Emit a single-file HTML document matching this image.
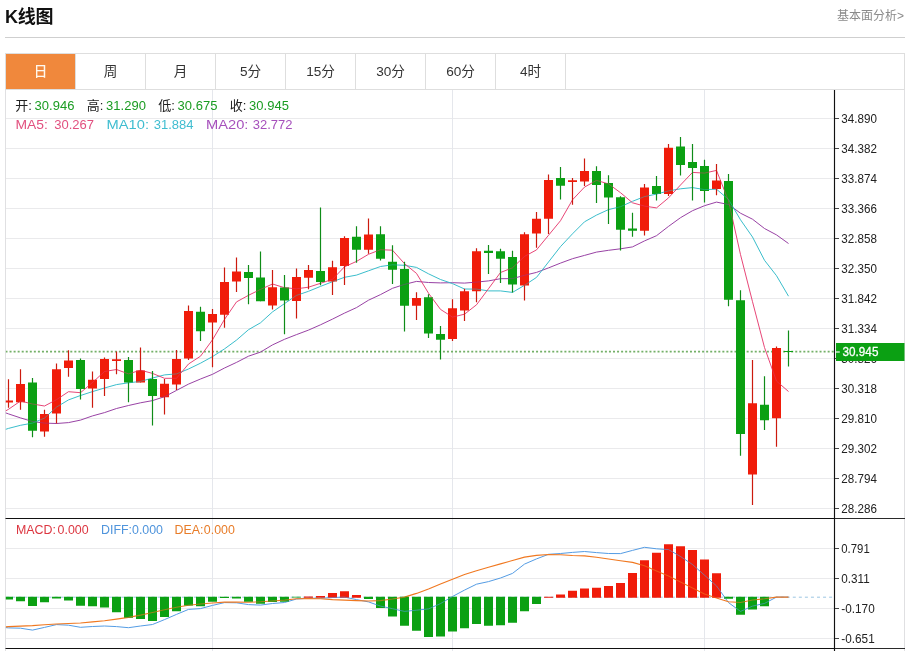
<!DOCTYPE html>
<html lang="zh-CN">
<head>
<meta charset="utf-8">
<title>K线图</title>
<style>
html,body{margin:0;padding:0;background:#fff;}
body{width:909px;height:651px;position:relative;overflow:hidden;font-family:"Liberation Sans","Noto Sans CJK SC",sans-serif;color:#222;}
.title{position:absolute;left:5px;top:4px;font-size:18px;font-weight:bold;line-height:26px;color:#111;letter-spacing:-0.3px;}
.more{position:absolute;right:5px;top:7px;font-size:12px;line-height:18px;color:#8a8a8a;}
.hr{position:absolute;left:5px;top:37px;width:900px;height:1px;background:#cfcfcf;}
.tabs{position:absolute;left:5px;top:53px;width:898px;height:35px;border:1px solid #dedede;background:#fff;}
.tab{float:left;width:69px;height:35px;line-height:36px;text-align:center;font-size:13.6px;color:#333;border-right:1px solid #dedede;}
.tab.on{background:#f0883c;color:#fff8ee;font-weight:500;}
</style>
</head>
<body>
<div class="title">K线图</div>
<div class="more">基本面分析&gt;</div>
<div class="hr"></div>
<div class="tabs"><div class="tab on">日</div><div class="tab">周</div><div class="tab">月</div><div class="tab">5分</div><div class="tab">15分</div><div class="tab">30分</div><div class="tab">60分</div><div class="tab">4时</div></div>
<svg width="909" height="651" viewBox="0 0 909 651" style="position:absolute;left:0;top:0">
<defs><clipPath id="cp"><rect x="5.8" y="90" width="828.8" height="559"/></clipPath></defs>
<path d="M5.5 118.5H834.5M5.5 148.5H834.5M5.5 178.5H834.5M5.5 208.5H834.5M5.5 238.5H834.5M5.5 268.5H834.5M5.5 298.5H834.5M5.5 328.5H834.5M5.5 358.5H834.5M5.5 388.5H834.5M5.5 418.5H834.5M5.5 448.5H834.5M5.5 478.5H834.5M5.5 508.5H834.5M5.5 548.5H834.5M5.5 578.5H834.5M5.5 608.5H834.5M5.5 638.5H834.5" stroke="#eaeaec" stroke-width="1" fill="none"/>
<path d="M212.5 90V651M452.5 90V651M704.5 90V651" stroke="#e5e7ec" stroke-width="1" fill="none"/>
<path d="M5.5 90V651M904.5 90V651" stroke="#e0e0e2" stroke-width="1" fill="none"/>
<g clip-path="url(#cp)">
<path d="M5.5 351.5H834.5" stroke="#74b068" stroke-width="1.75" stroke-dasharray="2 2.05" fill="none"/>
<path d="M-3.5 409.5 L8.5 413.9 L20.5 417.9 L32.5 421.5 L44.5 423.1 L56.5 423.5 L68.5 422.6 L80.5 420.1 L92.5 415.9 L104.5 412.6 L116.5 408.5 L128.5 405.5 L140.5 402.8 L152.5 400.6 L164.5 396.7 L176.5 390.4 L188.5 384.1 L200.5 379 L212.5 374.3 L224.5 368 L236.5 362.4 L248.5 356.2 L260.5 352.1 L272.5 344.9 L284.5 339.3 L296.5 334.6 L308.5 330.1 L320.5 324.8 L332.5 319.1 L344.5 313.1 L356.5 307.6 L368.5 300.2 L380.5 294.6 L392.5 288.3 L404.5 284.4 L416.5 281.4 L428.5 282.5 L440.5 282.9 L452.5 282.7 L464.5 283.1 L476.5 282.1 L488.5 280.9 L500.5 278.7 L512.5 278.6 L524.5 275.3 L536.5 272.4 L548.5 267.9 L560.5 263.1 L572.5 258.7 L584.5 255.4 L596.5 252.1 L608.5 250.3 L620.5 248.8 L632.5 246.9 L644.5 240.9 L656.5 235.7 L668.5 226.4 L680.5 217.7 L692.5 210.7 L704.5 205.7 L716.5 202.1 L728.5 204.5 L740.5 213.2 L752.5 219.2 L764.5 228.5 L776.5 234.9 L788.5 243.5" stroke="#92389f" stroke-width="0.95" fill="none" stroke-linejoin="round" opacity="1.0"/>
<path d="M-3.5 432.4 L8.5 428.4 L20.5 425.3 L32.5 423.1 L44.5 418.1 L56.5 407.1 L68.5 399.9 L80.5 395.5 L92.5 391.6 L104.5 388 L116.5 384.6 L128.5 382.8 L140.5 381.4 L152.5 378 L164.5 374.9 L176.5 373.9 L188.5 369 L200.5 363.2 L212.5 356.6 L224.5 348.9 L236.5 340.1 L248.5 329.7 L260.5 322.8 L272.5 311.9 L284.5 303.6 L296.5 295.4 L308.5 291.3 L320.5 286.4 L332.5 281.7 L344.5 277.3 L356.5 275.1 L368.5 270.8 L380.5 266.5 L392.5 264.8 L404.5 265.3 L416.5 267.4 L428.5 273.8 L440.5 279.5 L452.5 283.6 L464.5 289 L476.5 289.1 L488.5 290.9 L500.5 290.9 L512.5 292.4 L524.5 285.3 L536.5 277.4 L548.5 262 L560.5 246.6 L572.5 233.8 L584.5 221.8 L596.5 215.1 L608.5 209.6 L620.5 206.7 L632.5 201.3 L644.5 196.6 L656.5 194.1 L668.5 190.9 L680.5 188.8 L692.5 187.6 L704.5 189.6 L716.5 189.2 L728.5 199.4 L740.5 219.8 L752.5 237 L764.5 260.3 L776.5 275.7 L788.5 296.2" stroke="#2fb9c8" stroke-width="0.95" fill="none" stroke-linejoin="round" opacity="1.0"/>
<path d="M-3.5 416.1 L8.5 409.3 L20.5 401 L32.5 404 L44.5 406 L56.5 399.7 L68.5 391.7 L80.5 392.7 L92.5 382.5 L104.5 371.5 L116.5 369.5 L128.5 373.9 L140.5 370.2 L152.5 373.4 L164.5 378.3 L176.5 378.3 L188.5 364 L200.5 356.2 L212.5 339.8 L224.5 319.4 L236.5 301.9 L248.5 295.3 L260.5 289.4 L272.5 284 L284.5 287.7 L296.5 288.8 L308.5 287.2 L320.5 283.3 L332.5 279.3 L344.5 266.8 L356.5 261.4 L368.5 254.3 L380.5 249.7 L392.5 250.2 L404.5 263.7 L416.5 273.4 L428.5 293.2 L440.5 309.4 L452.5 317.1 L464.5 314.2 L476.5 304.8 L488.5 288.7 L500.5 272.5 L512.5 267.8 L524.5 256.4 L536.5 249.9 L548.5 235.3 L560.5 220.7 L572.5 199.8 L584.5 187.1 L596.5 180.4 L608.5 183.9 L620.5 192.7 L632.5 202.8 L644.5 206.1 L656.5 207.9 L668.5 197.9 L680.5 185 L692.5 172.4 L704.5 173.1 L716.5 170.4 L728.5 200.8 L740.5 254.6 L752.5 301.7 L764.5 347.5 L776.5 381.1 L788.5 391.5" stroke="#e63c70" stroke-width="0.95" fill="none" stroke-linejoin="round" opacity="1.0"/>
<path d="M8.5 379.3V407.7M20.5 369.2V409.7M44.5 409.7V436.8M56.5 363.4V423.4M68.5 350.3V376.8M92.5 371.4V407.7M104.5 357.4V395.9M116.5 351.6V374.3M140.5 347.4V382.4M164.5 379V414.5M176.5 349.9V390M188.5 305.5V360.1M212.5 308.9V367.2M224.5 267.4V327.8M236.5 257.4V292M272.5 270.1V309.6M296.5 268.4V318.5M308.5 265V289.2M332.5 260.8V294.9M344.5 236.3V285M368.5 218.6V253.7M416.5 292.2V320M452.5 299.3V341.1M464.5 288.8V320.9M476.5 248.2V302.3M524.5 232.3V300.6M536.5 212V247.8M548.5 174.4V234M572.5 178.1V204.8M584.5 158.4V186.1M644.5 184V235.4M668.5 144V195.9M716.5 163.9V195.3M752.5 359.9V505M776.5 346.4V446.8" stroke="#cc1a0e" stroke-width="1.2" fill="none"/>
<path d="M32.5 378.1V437.3M80.5 358.4V399.6M128.5 357V402.3M152.5 371V425.4M200.5 306.7V341M248.5 265V304.2M260.5 251.5V301.3M284.5 275.1V334.2M320.5 207.6V285.3M356.5 226.2V262.8M380.5 226.2V260.5M392.5 245.3V284M404.5 261.7V331.5M428.5 294.3V338M440.5 325.9V359.4M488.5 245V273.9M500.5 248.7V282.9M512.5 250.7V292.5M560.5 167.1V199.5M596.5 166.3V203M608.5 175.2V223.9M620.5 196.2V250.5M632.5 212.8V236.8M656.5 176V200.4M680.5 137.1V175.6M692.5 144V200.4M704.5 159.7V202.5M728.5 174V306.3M740.5 290.2V455.8M764.5 376.3V429.9M788.5 330.6V366.6" stroke="#0f8c18" stroke-width="1.2" fill="none"/>
<path d="M4 400.6h9v2h-9zM16 384h9v18.3h-9zM40 414h9v17.4h-9zM52 369.2h9v44.4h-9zM64 360.4h9v7.6h-9zM88 379.8h9v8.8h-9zM100 359.1h9v19.9h-9zM112 359.2h9v1.7h-9zM136 370.5h9v11.9h-9zM160 383.7h9v13.5h-9zM172 359.1h9v25.5h-9zM184 310.9h9v47.5h-9zM208 314h9v8.4h-9zM220 281.9h9v32.9h-9zM232 271.6h9v9.8h-9zM268 287.3h9v18.2h-9zM292 276.9h9v24.1h-9zM304 270.1h9v7.6h-9zM328 267.2h9v14.4h-9zM340 238h9v27.9h-9zM364 234.6h9v15.2h-9zM412 298.1h9v7.6h-9zM448 308.2h9v30.8h-9zM460 291.3h9v19.1h-9zM472 251.2h9v40.1h-9zM520 234.3h9v51.1h-9zM532 218.8h9v14.7h-9zM544 179.9h9v38.9h-9zM568 180.2h9v1.7h-9zM580 171h9v10.5h-9zM640 187.5h9v43.2h-9zM664 147.7h9v46.2h-9zM712 180.4h9v8.5h-9zM748 403.3h9v71.3h-9zM772 348.1h9v70.1h-9z" fill="#f01c0a"/>
<path d="M28 382.4h9v48.4h-9zM76 360.1h9v29h-9zM124 360.1h9v22.3h-9zM148 379h9v16.9h-9zM196 311.8h9v19.4h-9zM244 272.1h9v5.9h-9zM256 277.5h9v23.8h-9zM280 287.6h9v12.9h-9zM316 270.9h9v11h-9zM352 236.8h9v13h-9zM376 234.3h9v24.5h-9zM388 261.7h9v8.1h-9zM400 268.9h9v36.8h-9zM424 297.3h9v36.3h-9zM436 334.1h9v5.7h-9zM484 250.7h9v2.2h-9zM496 251.2h9v7.6h-9zM508 257.1h9v27.5h-9zM556 178.1h9v7.7h-9zM592 171h9v13.9h-9zM604 182.9h9v14.7h-9zM616 197.3h9v32.5h-9zM628 228.5h9v2.2h-9zM652 186.1h9v7.8h-9zM676 146.6h9v18.4h-9zM688 162.1h9v5.8h-9zM700 165.9h9v25.1h-9zM724 180.9h9v118.9h-9zM736 300.2h9v133.7h-9zM760 404.7h9v15.5h-9zM784 351h9v1h-9z" fill="#0ba013"/>
<clipPath id="cb"><path d="M4 400.6h9v2h-9zM16 384h9v18.3h-9zM40 414h9v17.4h-9zM52 369.2h9v44.4h-9zM64 360.4h9v7.6h-9zM88 379.8h9v8.8h-9zM100 359.1h9v19.9h-9zM112 359.2h9v1.7h-9zM136 370.5h9v11.9h-9zM160 383.7h9v13.5h-9zM172 359.1h9v25.5h-9zM184 310.9h9v47.5h-9zM208 314h9v8.4h-9zM220 281.9h9v32.9h-9zM232 271.6h9v9.8h-9zM268 287.3h9v18.2h-9zM292 276.9h9v24.1h-9zM304 270.1h9v7.6h-9zM328 267.2h9v14.4h-9zM340 238h9v27.9h-9zM364 234.6h9v15.2h-9zM412 298.1h9v7.6h-9zM448 308.2h9v30.8h-9zM460 291.3h9v19.1h-9zM472 251.2h9v40.1h-9zM520 234.3h9v51.1h-9zM532 218.8h9v14.7h-9zM544 179.9h9v38.9h-9zM568 180.2h9v1.7h-9zM580 171h9v10.5h-9zM640 187.5h9v43.2h-9zM664 147.7h9v46.2h-9zM712 180.4h9v8.5h-9zM748 403.3h9v71.3h-9zM772 348.1h9v70.1h-9zM28 382.4h9v48.4h-9zM76 360.1h9v29h-9zM124 360.1h9v22.3h-9zM148 379h9v16.9h-9zM196 311.8h9v19.4h-9zM244 272.1h9v5.9h-9zM256 277.5h9v23.8h-9zM280 287.6h9v12.9h-9zM316 270.9h9v11h-9zM352 236.8h9v13h-9zM376 234.3h9v24.5h-9zM388 261.7h9v8.1h-9zM400 268.9h9v36.8h-9zM424 297.3h9v36.3h-9zM436 334.1h9v5.7h-9zM484 250.7h9v2.2h-9zM496 251.2h9v7.6h-9zM508 257.1h9v27.5h-9zM556 178.1h9v7.7h-9zM592 171h9v13.9h-9zM604 182.9h9v14.7h-9zM616 197.3h9v32.5h-9zM628 228.5h9v2.2h-9zM652 186.1h9v7.8h-9zM676 146.6h9v18.4h-9zM688 162.1h9v5.8h-9zM700 165.9h9v25.1h-9zM724 180.9h9v118.9h-9zM736 300.2h9v133.7h-9zM760 404.7h9v15.5h-9zM784 351h9v1h-9z"/></clipPath>
<g clip-path="url(#cb)">
<path d="M-3.5 409.5 L8.5 413.9 L20.5 417.9 L32.5 421.5 L44.5 423.1 L56.5 423.5 L68.5 422.6 L80.5 420.1 L92.5 415.9 L104.5 412.6 L116.5 408.5 L128.5 405.5 L140.5 402.8 L152.5 400.6 L164.5 396.7 L176.5 390.4 L188.5 384.1 L200.5 379 L212.5 374.3 L224.5 368 L236.5 362.4 L248.5 356.2 L260.5 352.1 L272.5 344.9 L284.5 339.3 L296.5 334.6 L308.5 330.1 L320.5 324.8 L332.5 319.1 L344.5 313.1 L356.5 307.6 L368.5 300.2 L380.5 294.6 L392.5 288.3 L404.5 284.4 L416.5 281.4 L428.5 282.5 L440.5 282.9 L452.5 282.7 L464.5 283.1 L476.5 282.1 L488.5 280.9 L500.5 278.7 L512.5 278.6 L524.5 275.3 L536.5 272.4 L548.5 267.9 L560.5 263.1 L572.5 258.7 L584.5 255.4 L596.5 252.1 L608.5 250.3 L620.5 248.8 L632.5 246.9 L644.5 240.9 L656.5 235.7 L668.5 226.4 L680.5 217.7 L692.5 210.7 L704.5 205.7 L716.5 202.1 L728.5 204.5 L740.5 213.2 L752.5 219.2 L764.5 228.5 L776.5 234.9 L788.5 243.5" stroke="#92389f" stroke-width="0.95" fill="none" stroke-linejoin="round" opacity="0.5"/>
<path d="M-3.5 432.4 L8.5 428.4 L20.5 425.3 L32.5 423.1 L44.5 418.1 L56.5 407.1 L68.5 399.9 L80.5 395.5 L92.5 391.6 L104.5 388 L116.5 384.6 L128.5 382.8 L140.5 381.4 L152.5 378 L164.5 374.9 L176.5 373.9 L188.5 369 L200.5 363.2 L212.5 356.6 L224.5 348.9 L236.5 340.1 L248.5 329.7 L260.5 322.8 L272.5 311.9 L284.5 303.6 L296.5 295.4 L308.5 291.3 L320.5 286.4 L332.5 281.7 L344.5 277.3 L356.5 275.1 L368.5 270.8 L380.5 266.5 L392.5 264.8 L404.5 265.3 L416.5 267.4 L428.5 273.8 L440.5 279.5 L452.5 283.6 L464.5 289 L476.5 289.1 L488.5 290.9 L500.5 290.9 L512.5 292.4 L524.5 285.3 L536.5 277.4 L548.5 262 L560.5 246.6 L572.5 233.8 L584.5 221.8 L596.5 215.1 L608.5 209.6 L620.5 206.7 L632.5 201.3 L644.5 196.6 L656.5 194.1 L668.5 190.9 L680.5 188.8 L692.5 187.6 L704.5 189.6 L716.5 189.2 L728.5 199.4 L740.5 219.8 L752.5 237 L764.5 260.3 L776.5 275.7 L788.5 296.2" stroke="#2fb9c8" stroke-width="0.95" fill="none" stroke-linejoin="round" opacity="0.5"/>
<path d="M-3.5 416.1 L8.5 409.3 L20.5 401 L32.5 404 L44.5 406 L56.5 399.7 L68.5 391.7 L80.5 392.7 L92.5 382.5 L104.5 371.5 L116.5 369.5 L128.5 373.9 L140.5 370.2 L152.5 373.4 L164.5 378.3 L176.5 378.3 L188.5 364 L200.5 356.2 L212.5 339.8 L224.5 319.4 L236.5 301.9 L248.5 295.3 L260.5 289.4 L272.5 284 L284.5 287.7 L296.5 288.8 L308.5 287.2 L320.5 283.3 L332.5 279.3 L344.5 266.8 L356.5 261.4 L368.5 254.3 L380.5 249.7 L392.5 250.2 L404.5 263.7 L416.5 273.4 L428.5 293.2 L440.5 309.4 L452.5 317.1 L464.5 314.2 L476.5 304.8 L488.5 288.7 L500.5 272.5 L512.5 267.8 L524.5 256.4 L536.5 249.9 L548.5 235.3 L560.5 220.7 L572.5 199.8 L584.5 187.1 L596.5 180.4 L608.5 183.9 L620.5 192.7 L632.5 202.8 L644.5 206.1 L656.5 207.9 L668.5 197.9 L680.5 185 L692.5 172.4 L704.5 173.1 L716.5 170.4 L728.5 200.8 L740.5 254.6 L752.5 301.7 L764.5 347.5 L776.5 381.1 L788.5 391.5" stroke="#e63c70" stroke-width="0.95" fill="none" stroke-linejoin="round" opacity="0.5"/>
</g>
<path d="M6.3 597.2H834.5" stroke="#9cc6e2" stroke-width="1" stroke-dasharray="3 3.05" fill="none"/>
<path d="M5.5 627.6 L8.5 627.9 L20.5 628.2 L32.5 630.1 L44.5 627.4 L56.5 624.6 L68.5 625.2 L80.5 627.3 L92.5 626.5 L104.5 626 L116.5 626.6 L128.5 627.7 L140.5 626 L152.5 624.5 L164.5 619.6 L176.5 614.4 L188.5 609.4 L200.5 608.6 L212.5 605.4 L224.5 602.6 L236.5 602.8 L248.5 604.6 L260.5 605.1 L272.5 603.5 L284.5 602.5 L296.5 599 L308.5 598.2 L320.5 598.3 L332.5 597.5 L344.5 597.1 L356.5 599.6 L368.5 601.9 L380.5 606.1 L392.5 608.7 L404.5 611.4 L416.5 610.2 L428.5 608.9 L440.5 603.6 L452.5 596.5 L464.5 590.1 L476.5 584.2 L488.5 581.6 L500.5 578 L512.5 573.4 L524.5 564.1 L536.5 558.9 L548.5 554.3 L560.5 553.5 L572.5 552.4 L584.5 551.5 L596.5 552.6 L608.5 553.5 L620.5 553.6 L632.5 550.4 L644.5 547.3 L656.5 548.8 L668.5 549.6 L680.5 556.5 L692.5 564.5 L704.5 575.2 L716.5 585.9 L728.5 602.6 L740.5 611.4 L752.5 606.1 L764.5 603.4 L776.5 597.1 L788.5 597.1" stroke="#549ce4" stroke-width="1.0" fill="none" stroke-linejoin="round" opacity="1"/>
<path d="M5.5 626.9 L8.5 626.6 L20.5 626.1 L32.5 625.6 L44.5 624.8 L56.5 624 L68.5 623.5 L80.5 623 L92.5 621.9 L104.5 620.7 L116.5 619.1 L128.5 617.4 L140.5 615.1 L152.5 612.5 L164.5 609.7 L176.5 607.3 L188.5 605.2 L200.5 604 L212.5 603 L224.5 602.1 L236.5 602.1 L248.5 602.3 L260.5 601.8 L272.5 601 L284.5 600.1 L296.5 598.8 L308.5 598.5 L320.5 598.8 L332.5 599.6 L344.5 600.1 L356.5 600.6 L368.5 601 L380.5 600.6 L392.5 599 L404.5 597.1 L416.5 593.4 L428.5 589 L440.5 584 L452.5 579.2 L464.5 574.6 L476.5 570.7 L488.5 567.3 L500.5 563.9 L512.5 560.5 L524.5 557.1 L536.5 555.4 L548.5 554.5 L560.5 554.8 L572.5 555.5 L584.5 555.9 L596.5 557.3 L608.5 559 L620.5 560.7 L632.5 562.4 L644.5 565.8 L656.5 571 L668.5 576.1 L680.5 582 L692.5 588 L704.5 594 L716.5 597.9 L728.5 601.7 L740.5 602.5 L752.5 600 L764.5 598.8 L776.5 597.1 L788.5 597.1" stroke="#f07820" stroke-width="1.1" fill="none" stroke-linejoin="round" opacity="1"/>
<path d="M304 596.6h9v1.2h-9zM316 596.1h9v1.7h-9zM328 592.9h9v4.9h-9zM340 591.2h9v6.6h-9zM352 595.1h9v2.7h-9zM544 596.7h9v1.1h-9zM556 594.5h9v3.3h-9zM568 590.8h9v7h-9zM580 588.4h9v9.4h-9zM592 587.7h9v10.1h-9zM604 586h9v11.8h-9zM616 582.9h9v14.9h-9zM628 573h9v24.8h-9zM640 560.2h9v37.6h-9zM652 552.7h9v45.1h-9zM664 544.2h9v53.6h-9zM676 546.2h9v51.6h-9zM688 550.1h9v47.7h-9zM700 559.5h9v38.3h-9zM712 573.2h9v24.6h-9z" fill="#f01c0a"/>
<path d="M4 596.8h9v2.8h-9zM16 596.8h9v4.5h-9zM28 596.8h9v9.2h-9zM40 596.8h9v5.5h-9zM52 596.8h9v1.6h-9zM64 596.8h9v3.8h-9zM76 596.8h9v8.9h-9zM88 596.8h9v9.5h-9zM100 596.8h9v10.8h-9zM112 596.8h9v15.4h-9zM124 596.8h9v20.9h-9zM136 596.8h9v22.1h-9zM148 596.8h9v24.2h-9zM160 596.8h9v20.1h-9zM172 596.8h9v14.5h-9zM184 596.8h9v8.7h-9zM196 596.8h9v9.5h-9zM208 596.8h9v5h-9zM220 596.8h9v1.3h-9zM232 596.8h9v1.6h-9zM244 596.8h9v5h-9zM256 596.8h9v7h-9zM268 596.8h9v5.3h-9zM280 596.8h9v5h-9zM292 596.8h9v0.7h-9zM364 596.8h9v2.1h-9zM376 596.8h9v11.2h-9zM388 596.8h9v19.7h-9zM400 596.8h9v28.9h-9zM412 596.8h9v33.9h-9zM424 596.8h9v40.1h-9zM436 596.8h9v39.6h-9zM448 596.8h9v34.8h-9zM460 596.8h9v31.4h-9zM472 596.8h9v27.3h-9zM484 596.8h9v28.9h-9zM496 596.8h9v28.5h-9zM508 596.8h9v26h-9zM520 596.8h9v14.4h-9zM532 596.8h9v7.2h-9zM724 596.8h9v2h-9zM736 596.8h9v18h-9zM748 596.8h9v12.6h-9zM760 596.8h9v9.5h-9z" fill="#0ba013"/>
<clipPath id="mb"><path d="M304 596.6h9v1.2h-9zM316 596.1h9v1.7h-9zM328 592.9h9v4.9h-9zM340 591.2h9v6.6h-9zM352 595.1h9v2.7h-9zM544 596.7h9v1.1h-9zM556 594.5h9v3.3h-9zM568 590.8h9v7h-9zM580 588.4h9v9.4h-9zM592 587.7h9v10.1h-9zM604 586h9v11.8h-9zM616 582.9h9v14.9h-9zM628 573h9v24.8h-9zM640 560.2h9v37.6h-9zM652 552.7h9v45.1h-9zM664 544.2h9v53.6h-9zM676 546.2h9v51.6h-9zM688 550.1h9v47.7h-9zM700 559.5h9v38.3h-9zM712 573.2h9v24.6h-9zM4 596.8h9v2.8h-9zM16 596.8h9v4.5h-9zM28 596.8h9v9.2h-9zM40 596.8h9v5.5h-9zM52 596.8h9v1.6h-9zM64 596.8h9v3.8h-9zM76 596.8h9v8.9h-9zM88 596.8h9v9.5h-9zM100 596.8h9v10.8h-9zM112 596.8h9v15.4h-9zM124 596.8h9v20.9h-9zM136 596.8h9v22.1h-9zM148 596.8h9v24.2h-9zM160 596.8h9v20.1h-9zM172 596.8h9v14.5h-9zM184 596.8h9v8.7h-9zM196 596.8h9v9.5h-9zM208 596.8h9v5h-9zM220 596.8h9v1.3h-9zM232 596.8h9v1.6h-9zM244 596.8h9v5h-9zM256 596.8h9v7h-9zM268 596.8h9v5.3h-9zM280 596.8h9v5h-9zM292 596.8h9v0.7h-9zM364 596.8h9v2.1h-9zM376 596.8h9v11.2h-9zM388 596.8h9v19.7h-9zM400 596.8h9v28.9h-9zM412 596.8h9v33.9h-9zM424 596.8h9v40.1h-9zM436 596.8h9v39.6h-9zM448 596.8h9v34.8h-9zM460 596.8h9v31.4h-9zM472 596.8h9v27.3h-9zM484 596.8h9v28.9h-9zM496 596.8h9v28.5h-9zM508 596.8h9v26h-9zM520 596.8h9v14.4h-9zM532 596.8h9v7.2h-9zM724 596.8h9v2h-9zM736 596.8h9v18h-9zM748 596.8h9v12.6h-9zM760 596.8h9v9.5h-9z"/></clipPath>
<g clip-path="url(#mb)">
<path d="M5.5 627.6 L8.5 627.9 L20.5 628.2 L32.5 630.1 L44.5 627.4 L56.5 624.6 L68.5 625.2 L80.5 627.3 L92.5 626.5 L104.5 626 L116.5 626.6 L128.5 627.7 L140.5 626 L152.5 624.5 L164.5 619.6 L176.5 614.4 L188.5 609.4 L200.5 608.6 L212.5 605.4 L224.5 602.6 L236.5 602.8 L248.5 604.6 L260.5 605.1 L272.5 603.5 L284.5 602.5 L296.5 599 L308.5 598.2 L320.5 598.3 L332.5 597.5 L344.5 597.1 L356.5 599.6 L368.5 601.9 L380.5 606.1 L392.5 608.7 L404.5 611.4 L416.5 610.2 L428.5 608.9 L440.5 603.6 L452.5 596.5 L464.5 590.1 L476.5 584.2 L488.5 581.6 L500.5 578 L512.5 573.4 L524.5 564.1 L536.5 558.9 L548.5 554.3 L560.5 553.5 L572.5 552.4 L584.5 551.5 L596.5 552.6 L608.5 553.5 L620.5 553.6 L632.5 550.4 L644.5 547.3 L656.5 548.8 L668.5 549.6 L680.5 556.5 L692.5 564.5 L704.5 575.2 L716.5 585.9 L728.5 602.6 L740.5 611.4 L752.5 606.1 L764.5 603.4 L776.5 597.1 L788.5 597.1" stroke="#549ce4" stroke-width="1.0" fill="none" stroke-linejoin="round" opacity="0.6"/>
<path d="M5.5 626.9 L8.5 626.6 L20.5 626.1 L32.5 625.6 L44.5 624.8 L56.5 624 L68.5 623.5 L80.5 623 L92.5 621.9 L104.5 620.7 L116.5 619.1 L128.5 617.4 L140.5 615.1 L152.5 612.5 L164.5 609.7 L176.5 607.3 L188.5 605.2 L200.5 604 L212.5 603 L224.5 602.1 L236.5 602.1 L248.5 602.3 L260.5 601.8 L272.5 601 L284.5 600.1 L296.5 598.8 L308.5 598.5 L320.5 598.8 L332.5 599.6 L344.5 600.1 L356.5 600.6 L368.5 601 L380.5 600.6 L392.5 599 L404.5 597.1 L416.5 593.4 L428.5 589 L440.5 584 L452.5 579.2 L464.5 574.6 L476.5 570.7 L488.5 567.3 L500.5 563.9 L512.5 560.5 L524.5 557.1 L536.5 555.4 L548.5 554.5 L560.5 554.8 L572.5 555.5 L584.5 555.9 L596.5 557.3 L608.5 559 L620.5 560.7 L632.5 562.4 L644.5 565.8 L656.5 571 L668.5 576.1 L680.5 582 L692.5 588 L704.5 594 L716.5 597.9 L728.5 601.7 L740.5 602.5 L752.5 600 L764.5 598.8 L776.5 597.1 L788.5 597.1" stroke="#f07820" stroke-width="1.1" fill="none" stroke-linejoin="round" opacity="0.6"/>
</g>
</g>
<path d="M5.5 518.5H834M5.5 648.5H834M834.5 90V651" stroke="#111" stroke-width="1.15" fill="none"/>
<path d="M835 518.5H905M835 648.5H905" stroke="#2a2a2a" stroke-width="1" fill="none"/>
<path d="M835 118.5h4M835 148.5h4M835 178.5h4M835 208.5h4M835 238.5h4M835 268.5h4M835 298.5h4M835 328.5h4M835 358.5h4M835 388.5h4M835 418.5h4M835 448.5h4M835 478.5h4M835 508.5h4M835 548.5h4M835 578.5h4M835 608.5h4M835 638.5h4" stroke="#444" stroke-width="1" fill="none"/>
<g font-family="'Liberation Sans', sans-serif" font-size="12.4" fill="#222">
<text x="841.3" y="122.7" textLength="35.6" lengthAdjust="spacingAndGlyphs">34.890</text>
<text x="841.3" y="152.7" textLength="35.6" lengthAdjust="spacingAndGlyphs">34.382</text>
<text x="841.3" y="182.7" textLength="35.6" lengthAdjust="spacingAndGlyphs">33.874</text>
<text x="841.3" y="212.7" textLength="35.6" lengthAdjust="spacingAndGlyphs">33.366</text>
<text x="841.3" y="242.7" textLength="35.6" lengthAdjust="spacingAndGlyphs">32.858</text>
<text x="841.3" y="272.7" textLength="35.6" lengthAdjust="spacingAndGlyphs">32.350</text>
<text x="841.3" y="302.7" textLength="35.6" lengthAdjust="spacingAndGlyphs">31.842</text>
<text x="841.3" y="332.7" textLength="35.6" lengthAdjust="spacingAndGlyphs">31.334</text>
<text x="841.3" y="362.7" textLength="35.6" lengthAdjust="spacingAndGlyphs">30.826</text>
<text x="841.3" y="392.7" textLength="35.6" lengthAdjust="spacingAndGlyphs">30.318</text>
<text x="841.3" y="422.7" textLength="35.6" lengthAdjust="spacingAndGlyphs">29.810</text>
<text x="841.3" y="452.7" textLength="35.6" lengthAdjust="spacingAndGlyphs">29.302</text>
<text x="841.3" y="482.7" textLength="35.6" lengthAdjust="spacingAndGlyphs">28.794</text>
<text x="841.3" y="512.7" textLength="35.6" lengthAdjust="spacingAndGlyphs">28.286</text>
<text x="841.3" y="552.7" textLength="28.4" lengthAdjust="spacingAndGlyphs">0.791</text>
<text x="841.3" y="582.7" textLength="28.4" lengthAdjust="spacingAndGlyphs">0.311</text>
<text x="841.3" y="612.7" textLength="33.4" lengthAdjust="spacingAndGlyphs">-0.170</text>
<text x="841.3" y="642.7" textLength="33.4" lengthAdjust="spacingAndGlyphs">-0.651</text>
</g>
<rect x="836" y="343" width="68.5" height="18" fill="#0ba013"/>
<path d="M835.3 352h4.5" stroke="#fff" stroke-width="1.2"/>
<text x="842.6" y="356.4" font-family="'Liberation Sans', sans-serif" font-size="13" fill="#fff" stroke="#fff" stroke-width="0.3" textLength="35.8" lengthAdjust="spacingAndGlyphs">30.945</text>
<g font-family="'Liberation Sans', 'Noto Sans CJK SC', sans-serif" font-size="13">
<text x="15.3" y="110.3" fill="#222">开:</text>
<text x="34.6" y="110.3" fill="#1a9c22">30.946</text>
<text x="86.8" y="110.3" fill="#222">高:</text>
<text x="106.1" y="110.3" fill="#1a9c22">31.290</text>
<text x="158.3" y="110.3" fill="#222">低:</text>
<text x="177.6" y="110.3" fill="#1a9c22">30.675</text>
<text x="229.8" y="110.3" fill="#222">收:</text>
<text x="249.1" y="110.3" fill="#1a9c22">30.945</text>
<text x="15.4" y="128.7" fill="#e2507f" textLength="32.4" lengthAdjust="spacingAndGlyphs">MA5:</text>
<text x="54.3" y="128.7" fill="#e2507f">30.267</text>
<text x="106.6" y="128.7" fill="#3fbdd0" textLength="42.4" lengthAdjust="spacingAndGlyphs">MA10:</text>
<text x="153.7" y="128.7" fill="#3fbdd0">31.884</text>
<text x="206" y="128.7" fill="#a650bc" textLength="42.4" lengthAdjust="spacingAndGlyphs">MA20:</text>
<text x="252.7" y="128.7" fill="#a650bc">32.772</text>
</g>
<g font-family="'Liberation Sans', 'Noto Sans CJK SC', sans-serif" font-size="12.4">
<text x="16" y="533.8" fill="#dc3640">MACD:</text>
<text x="57.6" y="533.8" fill="#dc3640">0.000</text>
<text x="101" y="533.8" fill="#4f94dc">DIFF:</text>
<text x="132" y="533.8" fill="#4f94dc">0.000</text>
<text x="174.5" y="533.8" fill="#e87c28">DEA:</text>
<text x="203.8" y="533.8" fill="#e87c28">0.000</text>
</g>
</svg>
</body>
</html>
